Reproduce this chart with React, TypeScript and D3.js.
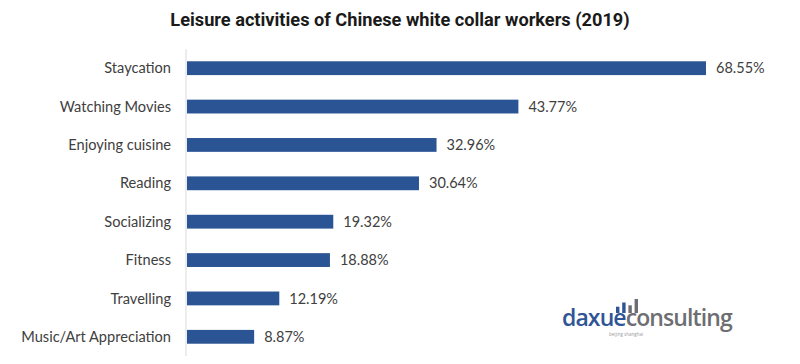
import React from "react";
import * as d3 from "d3";

const categories = [
  "Staycation",
  "Watching Movies",
  "Enjoying cuisine",
  "Reading",
  "Socializing",
  "Fitness",
  "Travelling",
  "Music/Art Appreciation",
];
const values = [68.55, 43.77, 32.96, 30.64, 19.32, 18.88, 12.19, 8.87];
const logoBars = [0.45, 0.75, 0.55, 1.0];

export default function App() {
  const W = 800, H = 364;
  const x0 = 187;
  const x = d3.scaleLinear().domain([0, 68.55]).range([x0, 706]);
  const y = d3.scaleBand().domain(categories).range([49, 356]).paddingInner(0.64).paddingOuter(0.32);
  const bw = y.bandwidth();
  const logoX = d3.scaleBand().domain(logoBars.map((_, i) => String(i))).range([616, 638]).paddingInner(0.45);
  const logoY = d3.scaleLinear().domain([0, 1]).range([313, 299]);
  return (
    <svg width={W} height={H} style={{ position: "absolute", left: 0, top: 0, background: "#fff" }}>
      <rect width={W} height={H} fill="#fff" />
      <text x={400} y={26} textAnchor="middle" fontFamily="Roboto" fontWeight={700} fontSize={18.2} fill="#1a1a1a">
        Leisure activities of Chinese white collar workers (2019)
      </text>
      <line x1={186} x2={186} y1={49} y2={356} stroke="#d9d9d9" strokeWidth={1} />
      {categories.map((c, i) => (
        <g key={c}>
          <rect x={x0} y={y(c)} width={x(values[i]) - x0} height={bw} fill="#2a5493" />
          <text x={171} y={(y(c) as number) + bw / 2} dy="0.35em" textAnchor="end" fontFamily="Lato" fontSize={14.6} fill="#404040">
            {c}
          </text>
          <text x={x(values[i]) + 10} y={(y(c) as number) + bw / 2} dy="0.35em" fontFamily="Lato" fontSize={14.5} fill="#404040">
            {values[i].toFixed(2)}%
          </text>
        </g>
      ))}
      <g>
        {logoBars.map((v, i) => (
          <rect key={i} x={logoX(String(i))} y={logoY(v)} width={logoX.bandwidth()} height={logoY(0) - logoY(v)} fill={i < 2 ? "#2f5597" : "#6d6e71"} />
        ))}
        <text x={562} y={326} fontFamily="Open Sans" fontWeight={600} fontSize={23} letterSpacing={-0.9}>
          <tspan fill="#2f5597">daxue</tspan>
          <tspan fill="#6d6e71">consulting</tspan>
        </text>
        <text x={609} y={336} fontFamily="Open Sans" fontSize={4.5} fill="#999">beijing shanghai</text>
      </g>
    </svg>
  );
}
